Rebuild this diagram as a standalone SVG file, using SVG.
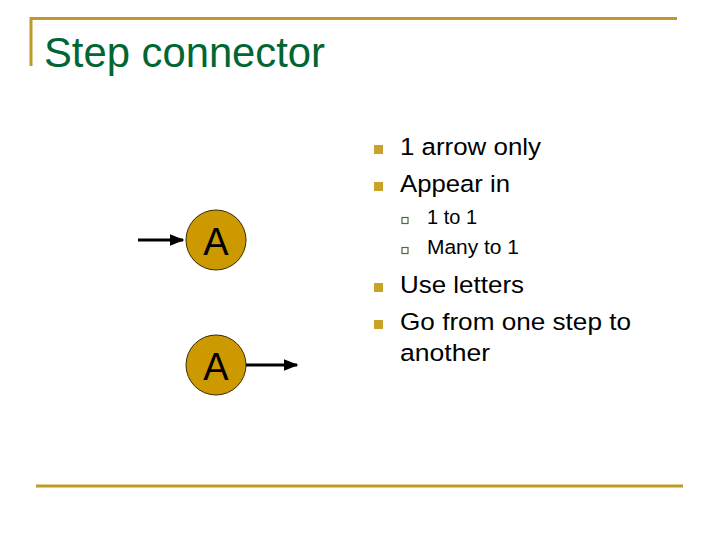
<svg xmlns="http://www.w3.org/2000/svg" width="720" height="540" viewBox="0 0 720 540">
<style>
.rule{stroke:#C09A26;stroke-width:3;fill:none}
.t{font-family:"Liberation Sans",Arial,sans-serif;fill:#000}
.b{fill:#C9A22A}
.sb{fill:#fff;stroke:#4A6B3A;stroke-width:1.2}
.node{fill:#CC9900;stroke:#3a2a00;stroke-width:1}
.conn{stroke:#000;stroke-width:3;fill:none}
</style>
<defs>
<marker id="ah" markerWidth="5" markerHeight="4" refX="4.5" refY="2" orient="auto" markerUnits="strokeWidth">
<path d="M0,0 L5,2 L0,4 z" fill="#000"/>
</marker>
</defs>
<rect width="720" height="540" fill="#fff"/>
<path class="rule" d="M31,66 V18.5 H677"/>
<line class="rule" x1="36" y1="486" x2="683" y2="486"/>
<text x="44" y="67" font-family="Liberation Sans, Arial, sans-serif" font-size="43" fill="#006633" textLength="281" lengthAdjust="spacingAndGlyphs">Step connector</text>
<g id="node-a-top">
<circle class="node" cx="216" cy="240" r="30"/>
<text class="t" x="216" y="254.5" font-size="38" text-anchor="middle">A</text>
</g>
<g id="node-a-bottom">
<circle class="node" cx="216" cy="365" r="30"/>
<text class="t" x="216" y="379.5" font-size="38" text-anchor="middle">A</text>
</g>
<g id="connectors">
<line class="conn" x1="138" y1="240" x2="183" y2="240" marker-end="url(#ah)"/>
<line class="conn" x1="246" y1="365" x2="297" y2="365" marker-end="url(#ah)"/>
</g>
<g id="bullets">
<rect class="b" x="374" y="145" width="9" height="9"/>
<text class="t" x="400" y="155" font-size="24.5" textLength="141" lengthAdjust="spacingAndGlyphs">1 arrow only</text>
<rect class="b" x="374" y="182" width="9" height="9"/>
<text class="t" x="400" y="192" font-size="24.5" textLength="110" lengthAdjust="spacingAndGlyphs">Appear in</text>
<rect class="sb" x="402" y="217.5" width="6" height="6"/>
<text class="t" x="427" y="224" font-size="20.5" textLength="50" lengthAdjust="spacingAndGlyphs">1 to 1</text>
<rect class="sb" x="402" y="247.5" width="6" height="6"/>
<text class="t" x="427" y="254" font-size="20.5" textLength="92" lengthAdjust="spacingAndGlyphs">Many to 1</text>
<rect class="b" x="374" y="283" width="9" height="9"/>
<text class="t" x="400" y="293" font-size="24.5" textLength="124" lengthAdjust="spacingAndGlyphs">Use letters</text>
<rect class="b" x="374" y="320" width="9" height="9"/>
<text class="t" x="400" y="330" font-size="24.5" textLength="231" lengthAdjust="spacingAndGlyphs">Go from one step to</text>
<text class="t" x="400" y="361" font-size="24.5" textLength="90" lengthAdjust="spacingAndGlyphs">another</text>
</g>
</svg>
